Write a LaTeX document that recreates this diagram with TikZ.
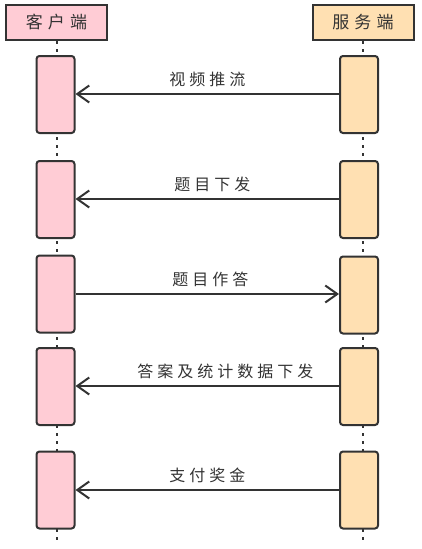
\documentclass[tikz,border=0pt]{standalone}
\usepackage{fontspec}
\newfontfamily\cjk[LetterSpace=25]{Noto Sans CJK SC}
\newfontfamily\cjkhead[LetterSpace=30]{Noto Sans CJK SC}
\usepackage{tikz}
\usetikzlibrary{arrows.meta,positioning}

\definecolor{linegray}{HTML}{333333}
\definecolor{clientpink}{HTML}{FFCCD5}
\definecolor{serverorange}{HTML}{FFE0B2}

\begin{document}
\begin{tikzpicture}[
  x=1pt,y=-1pt,
  head/.style={draw=linegray,line width=2pt,minimum width=101pt,minimum height=35pt,
               inner sep=0pt,font=\cjkhead\fontsize{17}{17}\selectfont,text=linegray},
  act/.style={draw=linegray,line width=2pt,rounded corners=3pt,minimum width=38pt,
              minimum height=77pt,inner sep=0pt},
  life/.style={draw=linegray,line width=2pt,dash pattern=on 3pt off 5pt},
  msg/.style={font=\cjk\fontsize{16}{16}\selectfont,text=linegray},
  arr/.style={-{Straight Barb[length=12pt,width=17pt]},line width=2pt,draw=linegray}
]
\useasboundingbox (0,0) rectangle (422,549);

% lifelines
\coordinate (cend) at (56.5,541);
\coordinate (send) at (363,541);
\node[head,fill=clientpink] (client) at (56.5,22.5) {客户端};
\node[head,fill=serverorange] (server) at (363,22.5) {服务端};
\draw[life] (client.south) -- (cend);
\draw[life] (server.south) -- (send);

% activations
\node[act,fill=clientpink] (c1) at (55.5,94.5) {};
\node[act,fill=clientpink] (c2) at (55.5,199.5) {};
\node[act,fill=clientpink] (c3) at (55.5,294) {};
\node[act,fill=clientpink] (c4) at (55.5,386.5) {};
\node[act,fill=clientpink] (c5) at (55.5,490) {};
\node[act,fill=serverorange] (s1) at (359,94.5) {};
\node[act,fill=serverorange] (s2) at (359,199.5) {};
\node[act,fill=serverorange] (s3) at (359,295) {};
\node[act,fill=serverorange] (s4) at (359,386.5) {};
\node[act,fill=serverorange] (s5) at (359,490) {};

% messages
\draw[arr] (s1.west |- 0,94) -- (c1.east |- 0,94) node[msg,midway,above=3pt] {视频推流};
\draw[arr] (s2.west |- 0,199) -- (c2.east |- 0,199) node[msg,midway,above=3pt,xshift=5pt] {题目下发};
\draw[arr] (c3.east |- 0,294) -- (s3.west |- 0,294) node[msg,midway,above=3pt,xshift=3pt] {题目作答};
\draw[arr] (s4.west |- 0,386) -- (c4.east |- 0,386) node[msg,midway,above=3pt,xshift=18pt] {答案及统计数据下发};
\draw[arr] (s5.west |- 0,490) -- (c5.east |- 0,490) node[msg,midway,above=3pt] {支付奖金};
\end{tikzpicture}
\end{document}
